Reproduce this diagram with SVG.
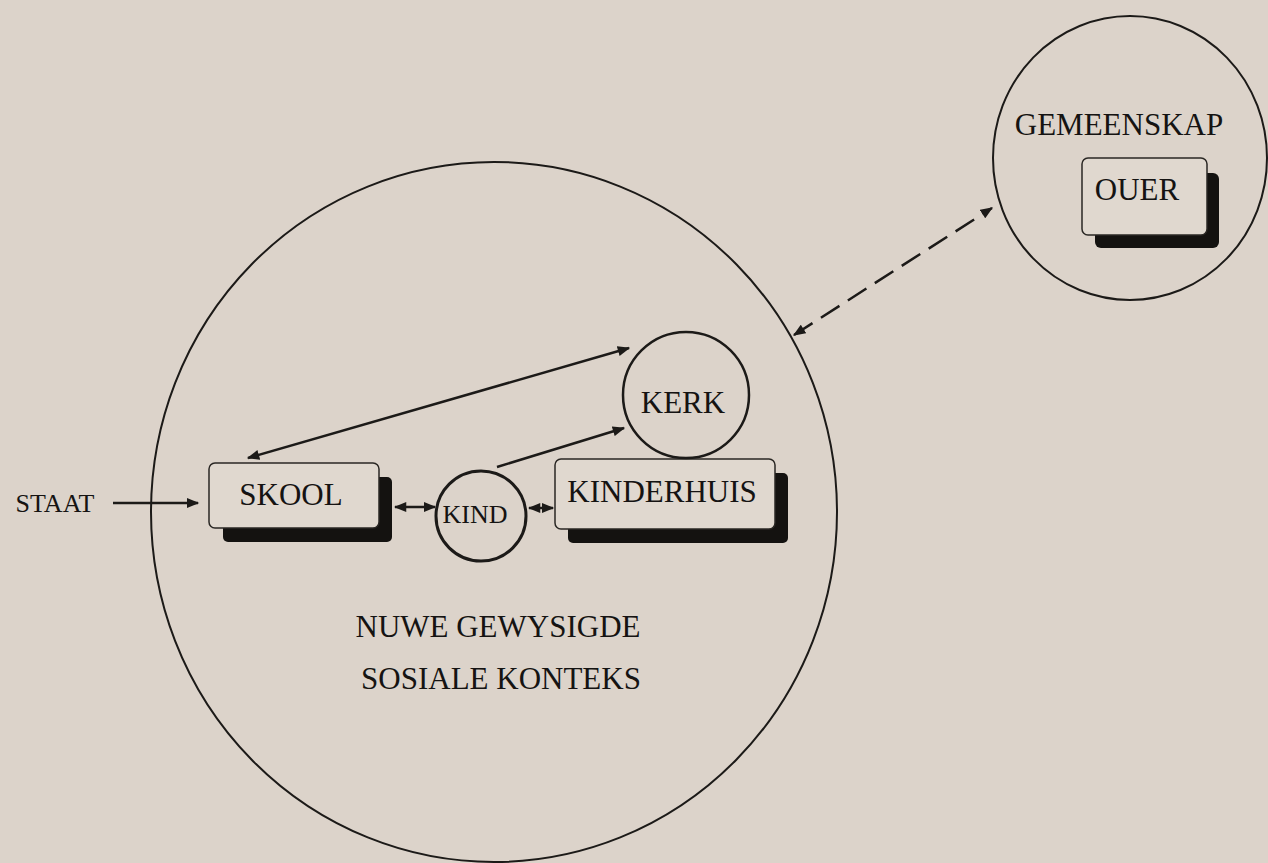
<svg xmlns="http://www.w3.org/2000/svg" width="1268" height="863" viewBox="0 0 1268 863">
<style>
.bg{fill:#dcd3ca}
.ring{fill:none;stroke:#1c1a18;stroke-width:2}
.box{fill:#e0d8cf;stroke:#2a2724;stroke-width:1.5}
.shadow{fill:#141210}
.lbl{font-family:"Liberation Serif","Times New Roman",serif;fill:#151312;font-size:31px}
.con{fill:none;stroke:#1c1a18;stroke-width:2.5}
</style>
<defs>
<marker id="ah" viewBox="0 0 10 8" refX="9" refY="4" markerWidth="13" markerHeight="10" markerUnits="userSpaceOnUse" orient="auto-start-reverse">
<path d="M0,0 L10,4 L0,8 Z" fill="#1c1a18"/>
</marker>
</defs>
<rect class="bg" x="0" y="0" width="1268" height="863"/>
<g id="sosiale-konteks">
<ellipse class="ring" cx="494" cy="512" rx="343" ry="350"/>
<text class="lbl" x="498" y="637" text-anchor="middle">NUWE GEWYSIGDE</text>
<text class="lbl" x="501" y="689" text-anchor="middle">SOSIALE KONTEKS</text>
</g>
<g id="gemeenskap">
<ellipse class="ring" cx="1130" cy="158" rx="137" ry="142"/>
<text class="lbl" x="1119" y="135" text-anchor="middle">GEMEENSKAP</text>
</g>
<g id="ouer">
<rect class="shadow" x="1095" y="173" width="124" height="75" rx="6"/>
<rect class="box" x="1082" y="158" width="125" height="77" rx="6"/>
<text class="lbl" x="1137" y="200" text-anchor="middle">OUER</text>
</g>
<g id="staat">
<text class="lbl" x="55" y="512" text-anchor="middle" style="font-size:26px">STAAT</text>
</g>
<g id="skool">
<rect class="shadow" x="223" y="477" width="169" height="65" rx="5"/>
<rect class="box" x="209" y="463" width="170" height="65" rx="6"/>
<text class="lbl" x="291" y="505" text-anchor="middle">SKOOL</text>
</g>
<g id="kind">
<circle cx="481" cy="516" r="45" fill="none" stroke="#1c1a18" stroke-width="3"/>
<text class="lbl" x="475" y="523" text-anchor="middle" style="font-size:26px">KIND</text>
</g>
<g id="kinderhuis">
<rect class="shadow" x="568" y="473" width="220" height="70" rx="5"/>
<rect class="box" x="555" y="459" width="220" height="70" rx="6"/>
<text class="lbl" x="662" y="502" text-anchor="middle">KINDERHUIS</text>
</g>
<g id="kerk">
<circle cx="686" cy="395" r="63" fill="none" stroke="#1c1a18" stroke-width="2.5"/>
<text class="lbl" x="683" y="413" text-anchor="middle">KERK</text>
</g>
<g id="connectors">
<line class="con" x1="113" y1="503" x2="198" y2="503" marker-end="url(#ah)"/>
<line class="con" x1="395" y1="507" x2="435" y2="507" marker-start="url(#ah)" marker-end="url(#ah)"/>
<line class="con" x1="529" y1="508" x2="553" y2="508" stroke-width="2" marker-start="url(#ah)" marker-end="url(#ah)"/>
<line class="con" x1="248" y1="458" x2="629" y2="348" marker-start="url(#ah)" marker-end="url(#ah)"/>
<line class="con" x1="497" y1="467" x2="624" y2="428" marker-end="url(#ah)"/>
<line class="con" x1="794" y1="335" x2="992" y2="208" stroke-width="3" stroke-dasharray="22 10" marker-start="url(#ah)" marker-end="url(#ah)"/>
</g>
</svg>
